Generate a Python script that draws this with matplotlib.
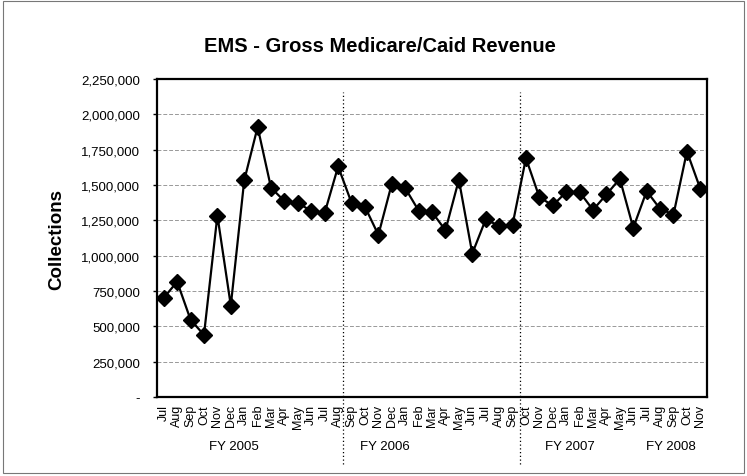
import matplotlib.pyplot as plt
import numpy as np
from matplotlib.patches import Rectangle
from matplotlib.ticker import FuncFormatter
import matplotlib.transforms as mtransforms

plt.rcParams['font.family'] = ['Liberation Sans', 'DejaVu Sans']

months = ["Jul", "Aug", "Sep", "Oct", "Nov", "Dec", "Jan", "Feb", "Mar", "Apr", "May", "Jun", "Jul",
          "Aug", "Sep", "Oct", "Nov", "Dec", "Jan", "Feb", "Mar", "Apr", "May", "Jun", "Jul", "Aug", "Sep",
          "Oct", "Nov", "Dec", "Jan", "Feb", "Mar", "Apr", "May", "Jun", "Jul", "Aug", "Sep", "Oct", "Nov"]
collections = [701000, 816000, 547000, 439000, 1284000, 647000, 1532000, 1910000, 1480000, 1386000,
               1374000, 1315000, 1303000, 1631000, 1374000, 1346000, 1147000, 1508000, 1478000, 1319000,
               1308000, 1180000, 1537000, 1015000, 1256000, 1211000, 1218000, 1690000, 1414000, 1355000,
               1450000, 1450000, 1324000, 1433000, 1544000, 1197000, 1457000, 1331000, 1291000, 1737000,
               1473000]
fy_labels = ["FY 2005", "FY 2006", "FY 2007", "FY 2008"]
fy_pos = [5.2, 16.5, 30.3, 37.8]
separators = [13.4, 26.55]

fig = plt.figure(figsize=(7.47, 4.77), dpi=100)
ax = fig.add_axes([0.2102, 0.1656, 0.7363, 0.6667])

x = np.arange(len(months))
ax.plot(x, collections, color="black", lw=1.6, marker="D", markersize=8.5, zorder=3)

ax.set_xlim(-0.5, len(months) - 0.5)
ax.set_ylim(0, 2250000)
ax.set_yticks(np.arange(0, 2250001, 250000))
ax.yaxis.set_major_formatter(FuncFormatter(lambda v, p: "-" if v == 0 else "{:,.0f}".format(v)))
ax.tick_params(axis="y", labelsize=9.5, length=3, width=1, pad=9)
ax.set_xticks(x)
ax.set_xticklabels(months, rotation=90, fontsize=9)
ax.tick_params(axis="x", length=0, pad=5)
ax.grid(axis="y", color="#999999", ls=(0, (4, 2)), lw=0.7)
ax.set_axisbelow(True)
for s in ax.spines.values():
    s.set_linewidth(1.6)

trans = mtransforms.blended_transform_factory(ax.transData, ax.transAxes)
for sx in separators:
    ax.plot([sx, sx], [-0.21, 0.96], transform=trans, color="black", ls=(0, (1, 2)), lw=0.9, clip_on=False)
for lab, px in zip(fy_labels, fy_pos):
    ax.text(px, -0.155, lab, transform=trans, ha="center", va="center", fontsize=9.5)

fig.text(0.509, 0.903, "EMS - Gross Medicare/Caid Revenue", ha="center", va="center",
         fontsize=14.5, fontweight="bold")
fig.text(0.076, 0.497, "Collections", rotation=90, ha="center", va="center",
         fontsize=13.5, fontweight="bold")

fig.patches.append(Rectangle((0.004, 0.006), 0.992, 0.99, transform=fig.transFigure,
                             fill=False, edgecolor="#777777", lw=0.8))

fig.savefig("out.png", dpi=100)
